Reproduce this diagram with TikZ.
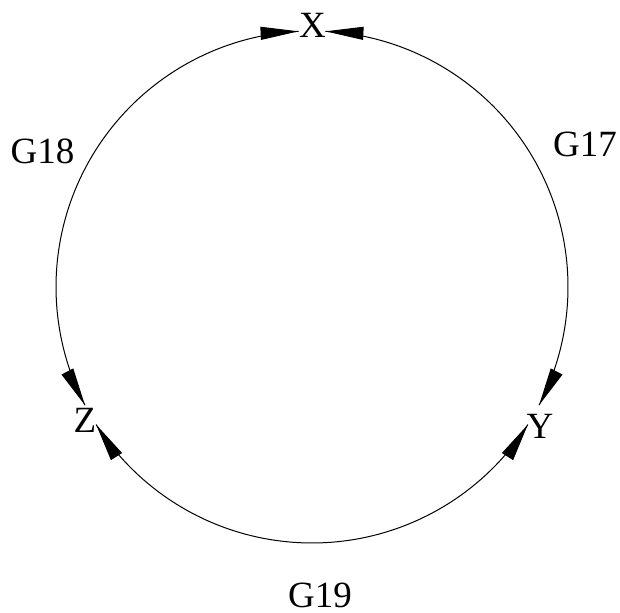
\documentclass[tikz,border=0pt]{standalone}
\usepackage{fontspec}
\setmainfont{Liberation Serif}
\usetikzlibrary{arrows.meta, decorations.markings}

\tikzset{
  vertex/.style={inner sep=0pt, font=\fontsize{18.5}{20}\selectfont},
  edgelabel/.style={inner sep=0pt, font=\fontsize{18.5}{20}\selectfont},
  tip/.tip={Triangle[length=19pt,width=6.5pt]},
  edge/.style={line width=0.5pt, postaction={decorate},
    decoration={markings,
      mark=at position 0 with {\arrowreversed{tip}},
      mark=at position 1 with {\arrow{tip}}}}
}

\begin{document}
\begin{tikzpicture}[x=0.5pt, y=0.5pt]

\useasboundingbox (0,0) rectangle (620,613);

% Circle centre
\coordinate (O) at (312,326);

% Vertices
\node[vertex] (X) at (312.5,587.5) {X};
\node[vertex] (Y) at (540,187) {Y};
\node[vertex] (Z) at (85,193) {Z};

% Arc ends
\path (O) ++(87:128pt) coordinate (X1);
\path (O) ++(93:128pt) coordinate (X2);
\path (O) ++(-27.5:128pt) coordinate (Y1);
\path (O) ++(-32.5:128pt) coordinate (Y2);
\path (O) ++(207.5:128pt) coordinate (Z1);
\path (O) ++(212.5:128pt) coordinate (Z2);

% Arcs
\draw[edge] (X1) arc[start angle=87, end angle=-27.5, radius=128pt];
\draw[edge] (Z1) arc[start angle=207.5, end angle=93, radius=128pt];
\draw[edge] (Y2) arc[start angle=-32.5, end angle=-147.5, radius=128pt];

% Labels
\node[edgelabel] (G17) at (585,468.5) {G17};
\node[edgelabel] (G18) at (42.5,461.5) {G18};
\node[edgelabel] (G19) at (320,18) {G19};

\end{tikzpicture}
\end{document}
